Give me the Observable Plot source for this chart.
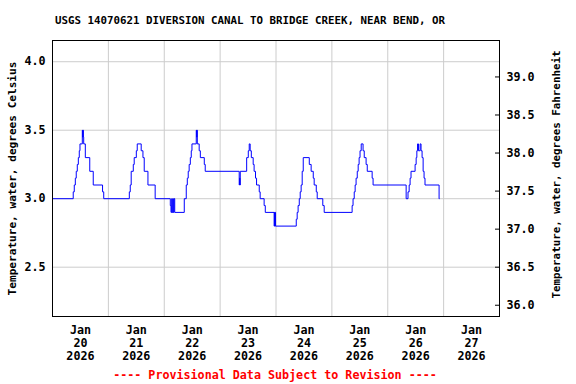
<!DOCTYPE html>
<html><head><meta charset="utf-8">
<script src="https://cdn.jsdelivr.net/npm/d3@7"></script>
<script src="https://cdn.jsdelivr.net/npm/@observablehq/plot@0.6"></script>
<style>
body{margin:0;background:#fff;}
svg{display:block;}
</style></head><body><div id="chart"></div>
<script>
const title = "USGS 14070621 DIVERSION CANAL TO BRIDGE CREEK, NEAR BEND, OR";
const yLabelLeft = "Temperature, water, degrees Celsius";
const yLabelRight = "Temperature, water, degrees Fahrenheit";
const caption = "---- Provisional Data Subject to Revision ----";
const startUTC = Date.UTC(2026, 0, 20);
const endUTC = Date.UTC(2026, 0, 28);

// Step-change points: hours after 2026-01-20 00:00, water temperature °C
const hours = [
  0, 8.9, 9.35, 9.8, 10.2, 10.65, 11.1, 11.5, 11.8, 12.8, 12.95, 13.1, 13.25, 13.4, 14.1, 16.0, 17.5, 21.5, 22.0,
  33.0, 33.4, 33.8, 34.7, 35.1, 36.0, 36.4, 38.1, 38.85, 39.4, 41.0, 44.1,
  50.6, 50.9, 51.2, 51.4, 51.7, 51.9, 52.2, 52.5, 56.6, 57.45, 57.9, 58.3, 58.7, 59.2, 59.6, 59.9,
  61.75, 61.9, 62.05, 62.2, 63.0, 63.5, 65.2, 65.6,
  80.2, 80.35, 80.5, 80.65, 83.4, 84.1, 84.5, 84.9, 85.4, 86.2, 86.6, 87.2, 87.65, 88.8, 89.2, 90.9, 91.4,
  95.2, 95.35, 95.5, 95.65, 95.8,
  104.7, 105.1, 105.5, 106.0, 106.4, 106.8, 107.25, 107.7, 110.3, 111.1, 112.0, 112.4, 113.3, 113.7, 116.1, 116.7,
  128.7, 129.1, 129.6, 130.0, 130.4, 130.9, 131.3, 131.7, 132.1, 132.6, 133.4, 133.9, 134.7, 135.2, 137.3, 137.7,
  151.9, 152.7, 153.2, 153.6, 154.0, 155.75, 156.2, 156.5, 156.8, 157.2, 157.9, 158.3, 158.75, 159.2, 159.6, 160.0,
  166.05, 166.15
];
const tempC = [
  3.0, 3.05, 3.1, 3.15, 3.2, 3.25, 3.3, 3.35, 3.4, 3.5, 3.45, 3.5, 3.45, 3.4, 3.3, 3.2, 3.1, 3.05, 3.0,
  3.05, 3.1, 3.2, 3.25, 3.3, 3.35, 3.4, 3.35, 3.3, 3.2, 3.1, 3.0,
  2.95, 2.9, 3.0, 2.9, 3.0, 2.9, 3.0, 2.9, 3.0, 3.1, 3.15, 3.2, 3.25, 3.3, 3.35, 3.4,
  3.5, 3.45, 3.5, 3.4, 3.35, 3.3, 3.25, 3.2,
  3.1, 3.15, 3.1, 3.2, 3.3, 3.35, 3.4, 3.35, 3.3, 3.25, 3.2, 3.15, 3.1, 3.05, 3.0, 2.95, 2.9,
  2.8, 2.9, 2.8, 2.9, 2.8,
  2.85, 2.9, 2.95, 3.0, 3.05, 3.1, 3.2, 3.3, 3.25, 3.2, 3.15, 3.1, 3.05, 3.0, 2.95, 2.9,
  2.95, 3.0, 3.05, 3.1, 3.15, 3.2, 3.25, 3.3, 3.35, 3.4, 3.35, 3.3, 3.25, 3.2, 3.15, 3.1,
  3.0, 3.05, 3.1, 3.15, 3.2, 3.25, 3.3, 3.35, 3.4, 3.35, 3.4, 3.35, 3.3, 3.2, 3.15, 3.1,
  3.0, 3.0
];
const celsiusTicks = [2.5, 3.0, 3.5, 4.0];
const fahrenheitTicks = [36.0, 36.5, 37.0, 37.5, 38.0, 38.5, 39.0];
const labelDays = [20, 21, 22, 23, 24, 25, 26, 27];
const gridDays = [21, 22, 23, 24, 25, 26, 27];

const data = hours.map((h, i) => ({date: new Date(startUTC + h * 3600e3), value: tempC[i]}));
const noonTicks = labelDays.map(d => new Date(Date.UTC(2026, 0, d, 12)));
const midnightGrid = gridDays.map(d => new Date(Date.UTC(2026, 0, d)));
const fTicksInC = fahrenheitTicks.map(f => (f - 32) / 1.8);
const font = "'DejaVu Sans Mono', monospace";

const chart = Plot.plot({
  width: 576,
  height: 384,
  marginLeft: 52,
  marginRight: 77,
  marginTop: 40,
  marginBottom: 68,
  style: {fontFamily: font, fontWeight: "bold", fontSize: "11.5px", background: "#fff", color: "#000"},
  x: {type: "utc", domain: [new Date(startUTC), new Date(endUTC)]},
  y: {domain: [2.14, 4.155]},
  marks: [
    Plot.gridX(midnightGrid, {stroke: "#cccccc", strokeOpacity: 1}),
    Plot.gridY(celsiusTicks, {stroke: "#cccccc", strokeOpacity: 1}),
    Plot.line(data, {x: "date", y: "value", curve: "step-after", stroke: "#0000ff", strokeWidth: 1}),
    Plot.frame({stroke: "#000"}),
    Plot.axisY({anchor: "left", ticks: celsiusTicks, tickSize: 0, tickPadding: 7,
      tickFormat: d => d.toFixed(1), label: null, fontSize: 11.7}),
    Plot.axisY({anchor: "right", ticks: fTicksInC, tickSize: -5, tickPadding: 12,
      tickFormat: c => (c * 1.8 + 32).toFixed(1), label: null, fontSize: 11.7}),
    Plot.axisX({anchor: "bottom", ticks: noonTicks, tickSize: 0, tickPadding: 8,
      tickFormat: d => "Jan\n" + d.getUTCDate() + "\n2026", lineHeight: 1.13, label: null, fontSize: 11.7}),
    Plot.text([title], {frameAnchor: "top", lineAnchor: "middle", dy: -20, dx: -26, text: d => d, fontSize: 10.8, fill: "#000"}),
    Plot.text([yLabelLeft], {frameAnchor: "left", textAnchor: "middle", lineAnchor: "middle", dx: -40.5, text: d => d, rotate: -90, fontSize: 11.1, fill: "#000"}),
    Plot.text([yLabelRight], {frameAnchor: "right", textAnchor: "middle", lineAnchor: "middle", dx: 57, dy: -4, text: d => d, rotate: -90, fontSize: 10.85, fill: "#000"}),
    Plot.text([caption], {frameAnchor: "bottom", lineAnchor: "middle", dy: 59, dx: -1, text: d => d, fontSize: 11.7, fill: "#ff0000"})
  ]
});
document.getElementById("chart").appendChild(chart);
</script>
</body></html>
